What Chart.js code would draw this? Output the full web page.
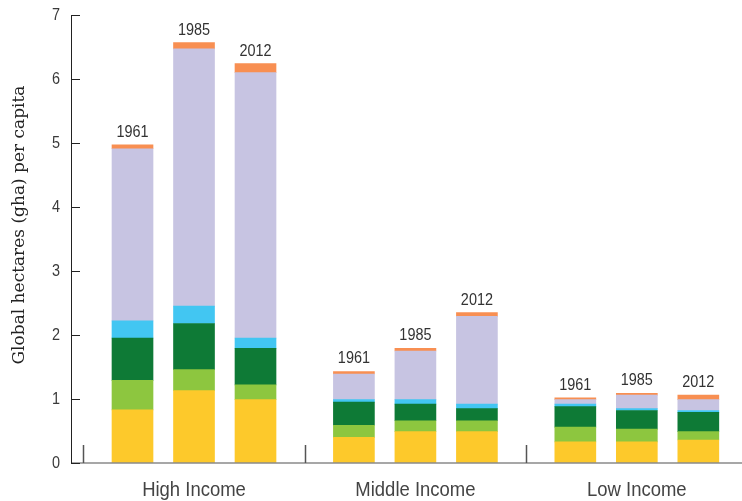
<!DOCTYPE html>
<html>
<head>
<meta charset="utf-8">
<script src="https://cdn.jsdelivr.net/npm/chart.js@4/dist/chart.umd.min.js"></script>
<style>
  html, body { margin: 0; padding: 0; background: #fff; }
  #wrap { width: 742px; height: 501px; position: relative; }
</style>
</head>
<body>
<div id="wrap"><canvas id="c"></canvas></div>
<script>
// Income groups and the years shown for each of them
const groups = ['High Income', 'Middle Income', 'Low Income'];
const years = ['1961', '1985', '2012'];

// Footprint components (gha per capita), ordered group by group, year by year
const yellowPart   = [0.83, 1.13, 0.99,  0.40, 0.49, 0.49,  0.33, 0.33, 0.36];
const lightGreen   = [0.46, 0.33, 0.23,  0.19, 0.17, 0.17,  0.23, 0.20, 0.13];
const darkGreen    = [0.66, 0.72, 0.57,  0.36, 0.26, 0.19,  0.32, 0.29, 0.30];
const bluePart     = [0.27, 0.27, 0.16,  0.04, 0.07, 0.07,  0.04, 0.03, 0.03];
const lavenderPart = [2.69, 4.02, 4.15,  0.40, 0.76, 1.37,  0.07, 0.21, 0.17];
const orangePart   = [0.06, 0.10, 0.14,  0.04, 0.04, 0.06,  0.03, 0.03, 0.07];

const yTicks = [0, 1, 2, 3, 4, 5, 6, 7];

const series = [
  { data: yellowPart,   color: '#fdc92b' },
  { data: lightGreen,   color: '#8dc63f' },
  { data: darkGreen,    color: '#0e7a36' },
  { data: bluePart,     color: '#42c6f2' },
  { data: lavenderPart, color: '#c7c4e2' },
  { data: orangePart,   color: '#f88f52' }
];

// Horizontal placement: bars one unit apart, groups 3.6 units apart
const GROUP_STEP = 3.6;
const barX = i => 1 + Math.floor(i / 3) * GROUP_STEP + (i % 3);
const groupCenters = groups.map((g, gi) => 2 + gi * GROUP_STEP);
const separators = groups.map((g, gi) => 0.2 + gi * GROUP_STEP);

const datasets = series.map(s => ({
  data: s.data.map((v, i) => ({ x: barX(i), y: v })),
  backgroundColor: s.color,
  borderWidth: 0,
  barThickness: 41
}));

const SANS = '"Liberation Sans", Arial, sans-serif';

// condensed text: regular sans squeezed horizontally
function narrowText(ctx, text, x, y, size, squeeze, align, baseline, color) {
  ctx.save();
  ctx.font = size + 'px ' + SANS;
  ctx.fillStyle = color;
  ctx.textAlign = align;
  ctx.textBaseline = baseline;
  ctx.translate(x, y);
  ctx.scale(squeeze, 1);
  ctx.fillText(text, 0, 0);
  ctx.restore();
}

const decor = {
  id: 'decor',
  afterDatasetsDraw(chart) {
    const { ctx, scales: { x, y } } = chart;
    ctx.save();
    const x0 = x.left, yb = y.getPixelForValue(0);

    // baseline
    ctx.strokeStyle = '#8a8a8a';
    ctx.lineWidth = 1.5;
    ctx.beginPath();
    ctx.moveTo(x0, yb);
    ctx.lineTo(x.right, yb);
    ctx.stroke();

    // vertical axis with inward ticks
    ctx.strokeStyle = '#222';
    ctx.lineWidth = 1;
    ctx.beginPath();
    ctx.moveTo(x0 + 0.5, y.getPixelForValue(7));
    ctx.lineTo(x0 + 0.5, yb);
    yTicks.forEach(t => {
      const py = Math.round(y.getPixelForValue(t)) + 0.5;
      ctx.moveTo(x0, py);
      ctx.lineTo(x0 + 9, py);
    });
    ctx.stroke();

    // group separators
    ctx.strokeStyle = '#555';
    ctx.lineWidth = 1.5;
    ctx.beginPath();
    separators.forEach(v => {
      const px = Math.round(x.getPixelForValue(v)) + 0.5;
      ctx.moveTo(px, yb);
      ctx.lineTo(px, yb - 18);
    });
    ctx.stroke();
    ctx.restore();

    // tick values on the vertical axis
    yTicks.forEach(t => {
      narrowText(ctx, String(t), x0 - 11, y.getPixelForValue(t), 17, 0.85, 'right', 'middle', '#3a3a3a');
    });

    // group names under the axis
    groups.forEach((g, gi) => {
      narrowText(ctx, g, x.getPixelForValue(groupCenters[gi]), 496, 21, 0.88, 'center', 'alphabetic', '#444');
    });

    // year labels above each stack
    yellowPart.forEach((v, i) => {
      const total = series.reduce((s, ser) => s + ser.data[i], 0);
      const px = x.getPixelForValue(barX(i));
      const py = y.getPixelForValue(total);
      narrowText(ctx, years[i % 3], px, py - 8, 17, 0.85, 'center', 'alphabetic', '#333');
    });

    // vertical axis title
    ctx.save();
    ctx.translate(20, 225);
    ctx.rotate(-Math.PI / 2);
    ctx.fillStyle = '#222';
    ctx.font = '17px "DejaVu Serif", "Liberation Serif", serif';
    ctx.textAlign = 'center';
    ctx.textBaseline = 'middle';
    ctx.fillText('Global hectares (gha) per capita', 0, 0);
    ctx.restore();
  }
};

new Chart(document.getElementById('c'), {
  type: 'bar',
  data: { datasets },
  options: {
    responsive: true,
    maintainAspectRatio: false,
    animation: false,
    layout: { padding: { top: 15, right: 0, left: 0, bottom: 0 } },
    plugins: { legend: { display: false }, tooltip: { enabled: false } },
    scales: {
      x: {
        type: 'linear',
        stacked: true,
        offset: false,
        min: 0,
        max: 10.91,
        grid: { display: false, drawTicks: false },
        border: { display: false },
        ticks: { display: false },
        afterFit: s => { s.height = 38; }
      },
      y: {
        stacked: true,
        min: 0,
        max: 7,
        grid: { display: false, drawTicks: false },
        border: { display: false },
        ticks: { display: false, stepSize: 1 },
        afterFit: s => { s.width = 71; }
      }
    }
  },
  plugins: [decor]
});
</script>
</body>
</html>
